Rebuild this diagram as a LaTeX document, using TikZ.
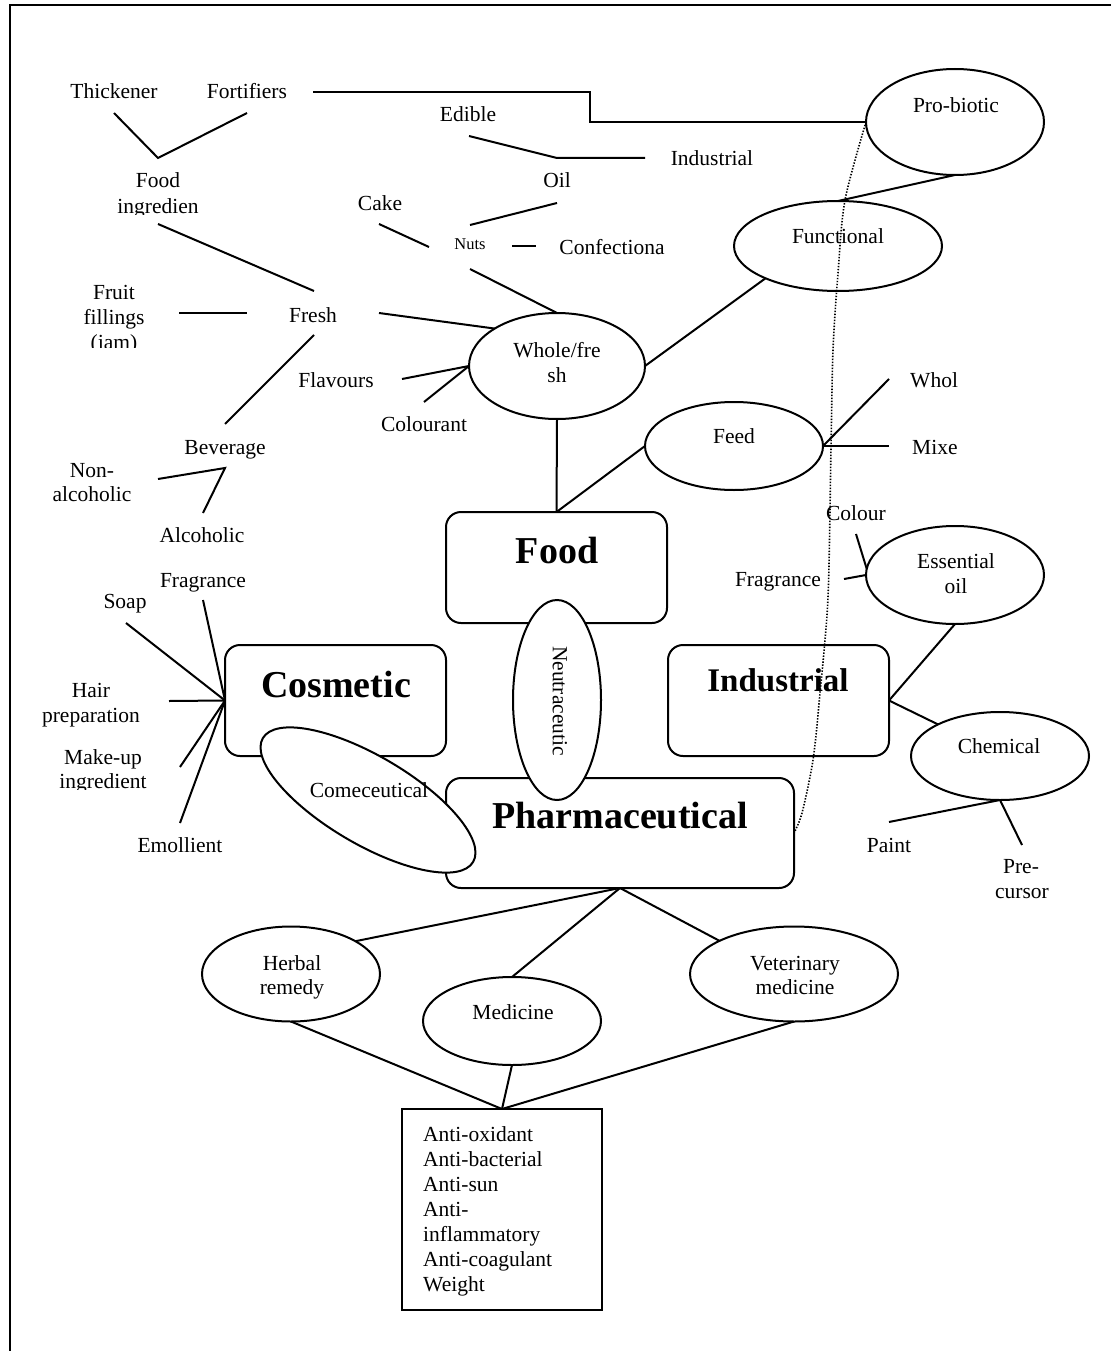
\documentclass[tikz,border=0pt]{standalone}
\usepackage{fontspec}
\setmainfont{Liberation Serif}
\usetikzlibrary{shapes.geometric,calc}
\begin{document}
\begin{tikzpicture}[x=1pt,y=-1pt,
  lbl/.style={font=\fontsize{21.5}{25}\selectfont, inner sep=0pt, anchor=base},
  smalllbl/.style={font=\fontsize{16.5}{20}\selectfont, inner sep=0pt, anchor=base},
  big/.style={font=\fontsize{38}{44}\selectfont\bfseries, inner sep=0pt, anchor=base},
  conn/.style={line width=2pt},
  ell/.style={draw, ellipse, line width=2pt, fill=white, inner sep=0pt, outer sep=0pt},
  rbox/.style={draw, rectangle, rounded corners=15pt, line width=2pt, inner sep=0pt, outer sep=0pt, minimum width=221pt, minimum height=111pt},
  dots/.style={line width=1.6pt, dash pattern=on 1.4pt off 1.6pt},
]
\useasboundingbox (0,0) rectangle (1111,1351);
% frame
\draw[line width=2.4pt] (1111,5) -- (10,5) -- (10,1351);

% boxes
\node[rbox] (food) at (556.5,567.5) {};
\node[rbox] (cosm) at (335.5,700.5) {};
\node[rbox] (indb) at (778.5,700.5) {};
\node[rbox, minimum width=348pt, minimum height=110pt] (pharm) at (620,833) {};
\node[draw, line width=2pt, minimum width=200pt, minimum height=201pt, inner sep=0pt, outer sep=0pt] (list) at (502,1209.5) {};

% ellipses
\node[ell, minimum width=178pt, minimum height=106pt] (probio) at (955,122) {};
\node[ell, minimum width=208pt, minimum height=90pt] (func) at (838,246) {};
\node[ell, minimum width=176pt, minimum height=106pt] (whole) at (557,366) {};
\node[ell, minimum width=178pt, minimum height=88pt] (feed) at (734,446) {};
\node[ell, minimum width=178pt, minimum height=98pt] (essen) at (955,575) {};
\node[ell, minimum width=178pt, minimum height=88pt] (chem) at (1000,756) {};
\node[ell, minimum width=178pt, minimum height=95pt] (herb) at (291,974) {};
\node[ell, minimum width=178pt, minimum height=88pt] (medi) at (512,1021) {};
\node[ell, minimum width=208pt, minimum height=95pt] (vet) at (794,974) {};
\node[ell, minimum width=88pt, minimum height=200pt] (neutra) at (557,700) {};
\node[ell, minimum width=244pt, minimum height=88pt, rotate=-30.5] (come) at (368,800) {};

% big labels
\node[big] (foodt) at (557,563) {Food};
\node[big] (cosmt) at (336,697) {Cosmetic};
\node[big, font=\fontsize{33}{40}\selectfont\bfseries] (indt) at (778,691) {Industrial};
\node[big] (pharmt) at (620,828) {Pharmaceutical};

% ellipse texts
\node[lbl] (probiot) at (956,113) {Pro-biotic};
\node[lbl] (funct) at (838,243) {Functional};
\node[lbl] (wholeA) at (557,357) {Whole/fre};
\node[lbl] (wholeB) at (557,382) {sh};
\node[lbl] (feedt) at (734,443) {Feed};
\node[lbl] (essA) at (956,568) {Essential};
\node[lbl] (essB) at (956,593) {oil};
\node[lbl] (chemt) at (999,753) {Chemical};
\node[lbl] (herbA) at (292,970) {Herbal};
\node[lbl] (herbB) at (292,994) {remedy};
\node[lbl] (medit) at (513,1019) {Medicine};
\node[lbl] (vetA) at (795,970) {Veterinary};
\node[lbl] (vetB) at (795,994) {medicine};
\node[lbl] (comet) at (369,797) {Comeceutical};
\node[font=\fontsize{21.5}{25}\selectfont, inner sep=0pt, rotate=-90] (neutrat) at (560,701) {Neutraceutic};

% free labels
\node[lbl] (thick) at (114,99) {Thickener};
\node[lbl] (fort) at (247,99) {Fortifiers};
\node[lbl] (edible) at (468,122) {Edible};
\node[lbl] (indus) at (712,166) {Industrial};
\node[lbl] (oil) at (557,188) {Oil};
\begin{scope}
\clip (90,160) rectangle (230,214);
\node[lbl] (foodA) at (158,188) {Food};
\node[lbl] (foodB) at (158,213) {ingredien};
\end{scope}
\node[lbl] (cake) at (380,211) {Cake};
\node[smalllbl] (nuts) at (470,249) {Nuts};
\node[lbl] (conf) at (612,254) {Confectiona};
\begin{scope}
\clip (60,270) rectangle (170,347);
\node[lbl] (fruitA) at (114,299) {Fruit};
\node[lbl] (fruitB) at (114,324) {fillings};
\node[lbl] (fruitC) at (114,349) {(jam)};
\end{scope}
\node[lbl] (fresh) at (313,322) {Fresh};
\node[lbl] (flav) at (336,387) {Flavours};
\node[lbl] (colr) at (424,431) {Colourant};
\node[lbl] (bev) at (225,454) {Beverage};
\node[lbl] (nonA) at (92,477) {Non-};
\node[lbl] (nonB) at (92,501) {alcoholic};
\node[lbl] (alc) at (202,542) {Alcoholic};
\node[lbl] (fragL) at (203,587) {Fragrance};
\begin{scope}
\clip (90,585) rectangle (160,612);
\node[lbl] (soap) at (125,608) {Soap};
\end{scope}
\node[lbl] (hairA) at (91,697) {Hair};
\node[lbl] (hairB) at (91,722) {preparation};
\begin{scope}
\clip (40,740) rectangle (170,789);
\node[lbl] (makeA) at (103,764) {Make-up};
\node[lbl] (makeB) at (103,788) {ingredient};
\end{scope}
\node[lbl] (emol) at (180,852) {Emollient};
\node[lbl, anchor=base west] (whol) at (910,387) {Whol};
\node[lbl, anchor=base west] (mixe) at (912,454) {Mixe};
\node[lbl] (colour) at (856,520) {Colour};
\node[lbl] (fragR) at (778,586) {Fragrance};
\node[lbl] (paint) at (889,852) {Paint};
\node[lbl] (preA) at (1021,873) {Pre-};
\node[lbl] (preB) at (1022,898) {cursor};

% list box text
\node[lbl, anchor=base west] (l1) at (423,1141) {Anti-oxidant};
\node[lbl, anchor=base west] (l2) at (423,1166) {Anti-bacterial};
\node[lbl, anchor=base west] (l3) at (423,1191) {Anti-sun};
\node[lbl, anchor=base west] (l4) at (423,1216) {Anti-};
\node[lbl, anchor=base west] (l5) at (423,1241) {inflammatory};
\node[lbl, anchor=base west] (l6) at (423,1266) {Anti-coagulant};
\node[lbl, anchor=base west] (l7) at (423,1291) {Weight};

% connectors
\coordinate (vtx) at (158,158);
\coordinate (ek) at (557,158);
\draw[conn] ($(thick.base)+(0,14)$) -- (vtx) -- ($(fort.base)+(0,14)$);
\draw[conn] ($(fort.base)+(66,-7)$) coordinate (fa) -| ($(fa)!0.5!(probio.west)$) |- (probio.west);
\draw[conn] ($(edible.base)+(1,14)$) -- (ek) -- ($(indus.base)+(-67,-8)$);
\draw[conn] ($(oil.base)+(0,15)$) -- ($(nuts.base)+(0,-24)$);
\draw[conn] ($(cake.base)+(-1,13)$) -- ($(nuts.base)+(-41,-2)$);
\draw[conn] ($(nuts.base)+(42,-3)$) -- ($(conf.base)+(-76,-8)$);
\draw[conn] ($(nuts.base)+(0,20)$) -- (whole.north);
\draw[conn] ($(foodB.base)+(0,11)$) -- ($(fresh.base)+(1,-31)$);
\draw[conn] ($(fruitB.base)+(65,-11)$) -- ($(fresh.base)+(-66,-9)$);
\draw[conn] ($(fresh.base)+(66,-9)$) -- (whole.149);
\draw[conn] ($(fresh.base)+(1,13)$) -- ($(bev.base)+(0,-30)$);
\draw[conn] ($(flav.base)+(66,-8)$) -- (whole.west);
\draw[conn] ($(colr.base)+(0,-29)$) -- (whole.west);
\draw[conn] ($(nonA.base)+(66,2)$) -- ($(bev.base)+(0,14)$) -- ($(alc.base)+(1,-29)$);
\draw[conn] (whole.south) -- (food.north);
\draw[conn] (food.north) -- (feed.west);
\draw[conn] (whole.east) -- (func.204);
\draw[conn] (func.north) -- (probio.south);
\draw[conn] (feed.east) -- ($(whol.base west)+(-21,-8)$);
\draw[conn] (feed.east) -- ($(mixe.base west)+(-23,-8)$);
\draw[conn] ($(colour.base)+(0,14)$) -- (essen.176);
\draw[conn] ($(fragR.base)+(66,-7)$) -- (essen.west);
\draw[conn] (essen.south) -- (indb.east);
\draw[conn] (indb.east) -- (chem.153);
\draw[conn] (chem.south) -- ($(paint.base)+(0,-30)$);
\draw[conn] (chem.south) -- ($(preA.base)+(1,-28)$);
\draw[conn] (cosm.west) -- ($(soap.base)+(1,15)$);
\draw[conn] (cosm.west) -- ($(fragL.base)+(0,13)$);
\draw[conn] (cosm.west) -- ($(hairA.base)+(78,4)$);
\draw[conn] (cosm.west) -- ($(makeA.base)+(77,3)$);
\draw[conn] (cosm.west) -- ($(emol.base)+(0,-29)$);
\draw[conn] (pharm.south) -- (herb.27);
\draw[conn] (pharm.south) -- (medi.north);
\draw[conn] (pharm.south) -- (vet.156);
\draw[conn] (herb.south) -- (list.north);
\draw[conn] (medi.south) -- (list.north);
\draw[conn] (vet.south) -- (list.north);

% dotted link
\draw[dots] plot[smooth, tension=0.5] coordinates {(probio.west) (845,200) (838,273) (833,350) (831,447) (828,597) (820,693) (813,760) (802,813) (pharm.east)};
\end{tikzpicture}
\end{document}
